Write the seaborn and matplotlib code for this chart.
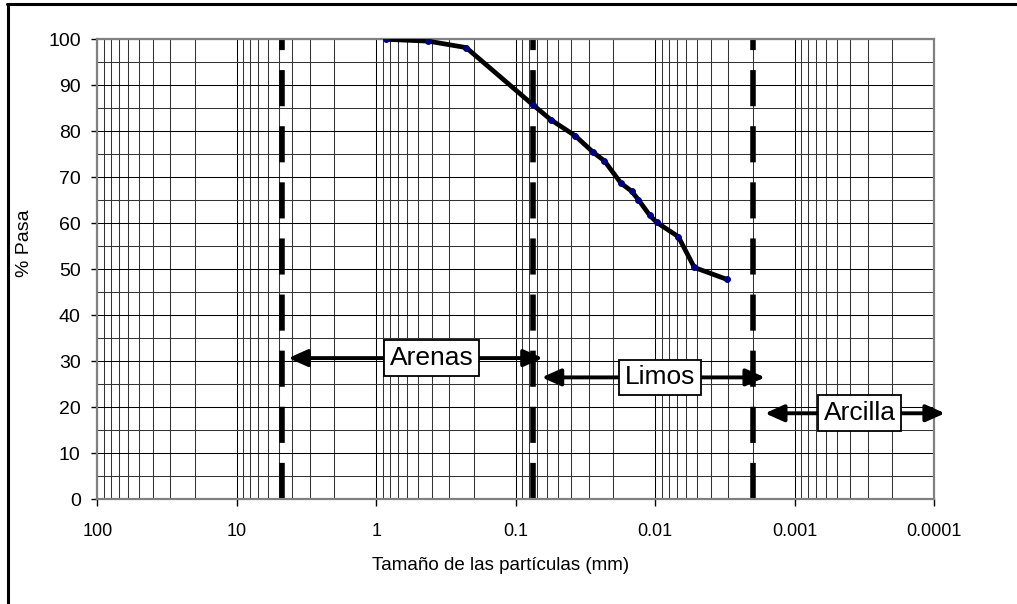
import numpy as np
import pandas as pd
import matplotlib
matplotlib.use("Agg")
import matplotlib.pyplot as plt
import seaborn as sns
from matplotlib.ticker import LogLocator, MultipleLocator, NullFormatter, FixedLocator, FixedFormatter
from matplotlib.lines import Line2D

# ---- data ----
size_mm = [0.85, 0.425, 0.227, 0.075, 0.056, 0.0374, 0.0278, 0.0232, 0.0176,
           0.0148, 0.0132, 0.0110, 0.00977, 0.00684, 0.00525, 0.00306]
pct_pass = [100.0, 99.6, 98.2, 85.7, 82.5, 79.0, 75.4, 73.6, 68.7,
            67.0, 65.1, 61.8, 60.2, 57.1, 50.4, 47.8]

boundaries_mm = [4.75, 0.075, 0.002]
zone_labels = ["Arenas", "Limos", "Arcilla"]
zone_left = [4.27, 0.0652, 0.001636]
zone_right = [0.0641, 0.001636, 0.0000839]
zone_y = [30.7, 26.5, 18.7]
zone_label_x = [0.401, 0.0092, 0.000343]

x_ticks = [100, 10, 1, 0.1, 0.01, 0.001, 0.0001]
x_tick_labels = ["100", "10", "1", "0.1", "0.01", "0.001", "0.0001"]
y_ticks = list(range(0, 101, 10))

# ---- style ----
sns.set_theme(style="white")
plt.rcParams["font.family"] = ["Liberation Sans", "DejaVu Sans"]
for k in ["text.color", "axes.labelcolor", "xtick.color", "ytick.color"]:
    plt.rcParams[k] = "black"

fig = plt.figure(figsize=(10.17, 6.04), dpi=100)
ax = fig.add_axes([0.09567, 0.17334, 0.82301, 0.76159])
ax.set_xscale("log")

# grading curve
df = pd.DataFrame({"size": size_mm, "pasa": pct_pass})
sns.lineplot(data=df, x="size", y="pasa", ax=ax, sort=False, color="black",
             lw=3.4, marker="o", markersize=4.2, markerfacecolor="#000080",
             markeredgecolor="#000080", zorder=4)

# boundary dashed lines
for b in boundaries_mm:
    ax.plot([b, b], [0, 100], color="black", lw=4, dashes=(6.5, 3.6),
            solid_capstyle="butt", zorder=2.5)

# zone arrows and labels
for lab, l, r, y, lx in zip(zone_labels, zone_left, zone_right, zone_y, zone_label_x):
    ax.annotate("", xy=(r, y), xytext=(l, y), annotation_clip=False,
                arrowprops=dict(arrowstyle="<|-|>,head_length=0.38,head_width=0.17",
                                lw=2.8, color="black", shrinkA=0, shrinkB=0,
                                mutation_scale=30), zorder=5)
    ax.text(lx, y, lab, ha="center", va="center", fontsize=19, zorder=6,
            bbox=dict(boxstyle="square,pad=0.22", fc="white", ec="black", lw=1.3))

# ---- axes configuration (after plotting) ----
ax.set_xlim(100, 0.0001)
ax.set_ylim(0, 100)
ax.xaxis.set_major_locator(FixedLocator(x_ticks))
ax.xaxis.set_major_formatter(FixedFormatter(x_tick_labels))
ax.xaxis.set_minor_locator(LogLocator(base=10, subs=np.arange(2, 10), numticks=50))
ax.xaxis.set_minor_formatter(NullFormatter())
ax.yaxis.set_major_locator(FixedLocator(y_ticks))
ax.yaxis.set_minor_locator(MultipleLocator(5))

ax.grid(which="major", color="black", linewidth=0.75)
ax.grid(which="minor", color="#333333", linewidth=0.75)
ax.set_axisbelow(True)

ax.tick_params(axis="x", which="major", bottom=True, length=5, width=1,
               direction="out", pad=12, labelsize=13, color="black")
ax.tick_params(axis="y", which="major", left=True, length=4, width=1,
               direction="out", pad=8, labelsize=14, color="black")
ax.tick_params(which="minor", length=0)

for s in ax.spines.values():
    s.set_color("#808080")
    s.set_linewidth(1.6)
    s.set_zorder(3)

ax.set_xlabel("Tamaño de las partículas (mm)", fontsize=13.5)
ax.set_ylabel("% Pasa", fontsize=14)
ax.xaxis.set_label_coords(0.4823, -0.1254)
ax.yaxis.set_label_coords(-0.0768, 0.556)

# outer frame lines (top and left)
fig.add_artist(Line2D([7 / 1017, 1], [1 - 4 / 604, 1 - 4 / 604],
                      transform=fig.transFigure, color="black", lw=2.2))
fig.add_artist(Line2D([7.5 / 1017, 7.5 / 1017], [0, 1 - 4 / 604],
                      transform=fig.transFigure, color="black", lw=2.2))

fig.savefig("out.png", dpi=100)
